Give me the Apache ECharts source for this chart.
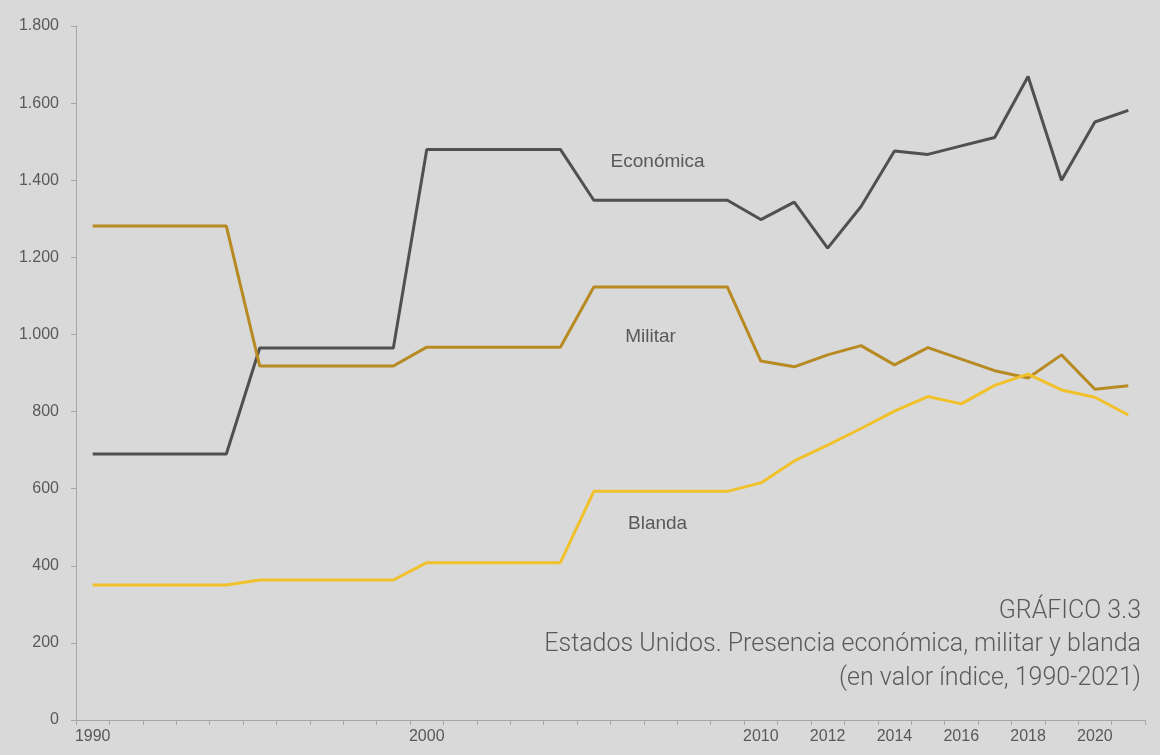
<!DOCTYPE html>
<html>
<head>
<meta charset="utf-8">
<script src="https://cdn.jsdelivr.net/npm/echarts@6/dist/echarts.min.js"></script>
<style>
html,body{margin:0;padding:0;background:#d9d9d9;}
#chart{width:1160px;height:755px;}
</style>
</head>
<body>
<div id="chart"></div>
<script>
const years = ['1990','1991','1992','1993','1994','1995','1996','1997','1998','1999','2000','2001','2002','2003','2004','2005','2006','2007','2008','2009','2010','2011','2012','2013','2014','2015','2016','2017','2018','2019','2020','2021'];
const shownYearLabels = ['1990','2000','2010','2012','2014','2016','2018','2020'];
const economica = [690,690,690,690,690,965,965,965,965,965,1480,1480,1480,1480,1480,1348,1348,1348,1348,1348,1298,1343,1224,1332,1476,1467,1489,1511,1669,1400,1551,1581];
const militar = [1281,1281,1281,1281,1281,918,918,918,918,918,967,967,967,967,967,1123,1123,1123,1123,1123,931,916,947,971,921,966,936,906,887,947,858,867];
const blanda = [350,350,350,350,350,363,363,363,363,363,408,408,408,408,408,593,593,593,593,593,615,672,713,756,801,839,820,868,897,856,837,791];
const yTicks = {min:0, max:1800, interval:200};
const seriesNames = ['Económica','Militar','Blanda'];
const titleLines = ['GRÁFICO 3.3','Estados Unidos. Presencia económica, militar y blanda','(en valor índice, 1990-2021)'];

const chart = echarts.init(document.getElementById('chart'));
const labelColor = '#595959';
const fontFam = '"Liberation Sans", Arial, sans-serif';
function seriesLabel(name, year, value, offset) {
  return {
    symbol: 'circle', symbolSize: 0, silent: true,
    data: [{coord: [year, value], value: name}],
    label: {show: true, position: 'inside', offset: offset, formatter: name, color: labelColor, fontSize: 19, fontFamily: fontFam}
  };
}
chart.setOption({
  backgroundColor: '#d9d9d9',
  animation: false,
  graphic: titleLines.map((t, i) => ({
    type: 'text',
    right: 19,
    top: 599 + i * 33.5,
    style: {text: t, fill: '#5a5a5a', font: '300 25px Roboto'}
  })),
  grid: {left: 76, right: 15, top: 26, bottom: 35, containLabel: false},
  xAxis: {
    type: 'category',
    data: years,
    boundaryGap: true,
    axisLine: {lineStyle: {color: '#a6a6a6', width: 1}},
    axisTick: {show: true, interval: 0, length: 5, lineStyle: {color: '#a6a6a6'}},
    axisLabel: {
      interval: 0, margin: 9, color: labelColor, fontSize: 16, fontFamily: fontFam,
      formatter: v => shownYearLabels.includes(v) ? v : ''
    },
    splitLine: {show: false}
  },
  yAxis: {
    type: 'value',
    min: yTicks.min, max: yTicks.max, interval: yTicks.interval,
    axisLine: {show: true, lineStyle: {color: '#a6a6a6', width: 1}},
    axisTick: {show: true, length: 5, lineStyle: {color: '#a6a6a6'}},
    axisLabel: {
      margin: 17, color: labelColor, fontSize: 16, fontFamily: fontFam,
      formatter: v => String(v).replace(/\B(?=(\d{3})+(?!\d))/g, '.')
    },
    splitLine: {show: false}
  },
  series: [
    {name: seriesNames[0], type: 'line', data: economica, symbol: 'none', lineStyle: {color: '#505052', width: 3}, itemStyle: {color: '#505052'},
     markPoint: seriesLabel(seriesNames[0], '2007', 1447, [-3, 0])},
    {name: seriesNames[1], type: 'line', data: militar, symbol: 'none', lineStyle: {color: '#b88a22', width: 3}, itemStyle: {color: '#b88a22'},
     markPoint: seriesLabel(seriesNames[1], '2007', 993, [-10, 0])},
    {name: seriesNames[2], type: 'line', data: blanda, symbol: 'none', lineStyle: {color: '#f1c12c', width: 3}, itemStyle: {color: '#f1c12c'},
     markPoint: seriesLabel(seriesNames[2], '2007', 508, [-3, 0])}
  ]
});
</script>
</body>
</html>
